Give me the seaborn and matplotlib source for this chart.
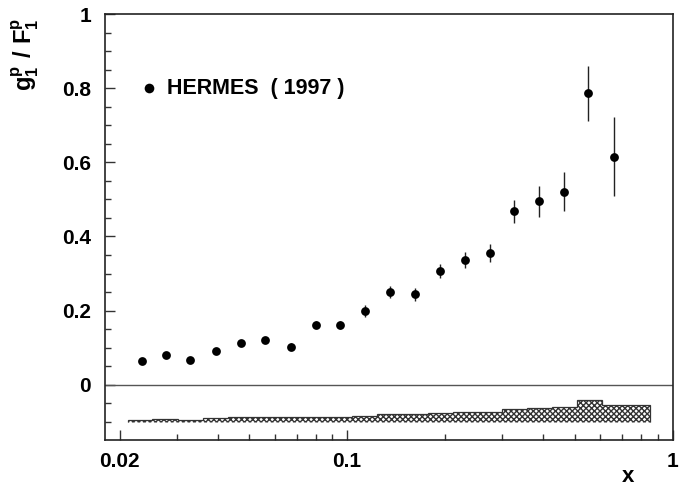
import matplotlib
matplotlib.use("Agg")
import matplotlib.pyplot as plt
import matplotlib.ticker as mticker
import seaborn as sns
import numpy as np
import pandas as pd

# HERMES 1997 g1p/F1p
x_vals = [0.0234, 0.0278, 0.0330, 0.0395, 0.0471, 0.0560, 0.0670, 0.0802, 0.0952, 0.1136,
          0.1355, 0.1617, 0.1930, 0.2302, 0.2742, 0.3265, 0.3895, 0.4626, 0.5493, 0.6587]
ratio = [0.063, 0.081, 0.068, 0.090, 0.112, 0.122, 0.103, 0.162, 0.162, 0.199,
         0.249, 0.244, 0.307, 0.337, 0.355, 0.468, 0.495, 0.521, 0.786, 0.615]
stat_err = [0.006, 0.006, 0.006, 0.007, 0.008, 0.008, 0.009, 0.010, 0.011, 0.015,
            0.016, 0.018, 0.020, 0.022, 0.024, 0.031, 0.042, 0.053, 0.074, 0.107]

# systematic band (histogram drawn from -0.1 upwards)
sys_edges = [0.0212, 0.0252, 0.0303, 0.0361, 0.0430, 0.0512, 0.0611, 0.0728, 0.0868, 0.1036,
             0.1236, 0.1479, 0.1773, 0.2115, 0.2523, 0.2995, 0.3581, 0.4265, 0.5088, 0.6073, 0.8525]
sys_err = [0.006, 0.008, 0.006, 0.010, 0.012, 0.012, 0.012, 0.0135, 0.0135, 0.017,
           0.021, 0.021, 0.025, 0.026, 0.026, 0.035, 0.038, 0.041, 0.058, 0.046]
sys_base = -0.1

df = pd.DataFrame({"x": x_vals, "ratio": ratio, "err": stat_err})

sns.set_theme(style="white")
plt.rcParams["font.family"] = ["Liberation Sans", "DejaVu Sans"]
plt.rcParams["text.color"] = "black"
plt.rcParams["xtick.color"] = "black"
plt.rcParams["ytick.color"] = "black"
plt.rcParams["axes.labelcolor"] = "black"
plt.rcParams["mathtext.fontset"] = "custom"
plt.rcParams["mathtext.rm"] = "Liberation Sans"
plt.rcParams["mathtext.bf"] = "Liberation Sans:bold"
plt.rcParams["hatch.linewidth"] = 1.0
plt.rcParams["hatch.color"] = "#111111"

fig = plt.figure(figsize=(6.94, 4.88), dpi=100)
ax = fig.add_axes([0.1513, 0.0984, 0.8180, 0.8729])

# systematic band
ax.stairs(np.array(sys_err) + sys_base, sys_edges, baseline=sys_base, fill=True,
          facecolor="white", edgecolor="#333333", hatch="xxxxxx", linewidth=0.9)

ax.axhline(0, color="#555555", lw=1.0, zorder=1)

ax.errorbar(df["x"], df["ratio"], yerr=df["err"], fmt="none", ecolor="#222222",
            elinewidth=1.0, capsize=0, zorder=2)
sns.scatterplot(data=df, x="x", y="ratio", ax=ax, color="black", s=40,
                edgecolor="black", linewidth=0, zorder=3, label="HERMES  ( 1997 )")

ax.set_xscale("log")
ax.set_xlim(0.01804, 1.0)
ax.set_ylim(-0.149, 1.0)

ax.xaxis.set_major_locator(mticker.FixedLocator([0.02, 0.1, 1]))
ax.xaxis.set_major_formatter(mticker.FixedFormatter(["0.02", "0.1", "1"]))
ax.xaxis.set_minor_locator(mticker.LogLocator(base=10, subs=np.arange(2, 10)))
ax.xaxis.set_minor_formatter(mticker.NullFormatter())
ax.yaxis.set_major_locator(mticker.FixedLocator([0, 0.2, 0.4, 0.6, 0.8, 1.0]))
ax.yaxis.set_major_formatter(mticker.FixedFormatter(["0", "0.2", "0.4", "0.6", "0.8", "1"]))
ax.yaxis.set_minor_locator(mticker.MultipleLocator(0.05))

ax.tick_params(which="major", direction="in", length=7, width=1.0, color="#333333")
ax.tick_params(which="minor", direction="in", length=4, width=1.0, color="#333333")
ax.tick_params(axis="x", which="both", top=False, bottom=True, labelsize=15, pad=9)
ax.tick_params(axis="y", which="both", right=False, left=True, labelsize=15, pad=10)
for lab in ax.get_xticklabels() + ax.get_yticklabels():
    lab.set_fontweight("bold")

for s in ax.spines.values():
    s.set_color("#222222")
    s.set_linewidth(1.2)

ax.set_xlabel("x", fontsize=16, fontweight="bold")
ax.xaxis.set_label_coords(0.921, -0.062)
ax.set_ylabel(r"$\mathbf{g_1^p\ /\ F_1^p}$", fontsize=17)
ax.yaxis.set_label_coords(-0.112, 0.905)

leg = ax.legend(loc="center left", bbox_to_anchor=(0.0593, 0.8256), frameon=False,
                handlelength=1.0, handletextpad=0.3, borderpad=0, borderaxespad=0,
                prop={"size": 15.5, "weight": "bold"}, markerscale=1.1)

fig.savefig("out.png", dpi=100)
